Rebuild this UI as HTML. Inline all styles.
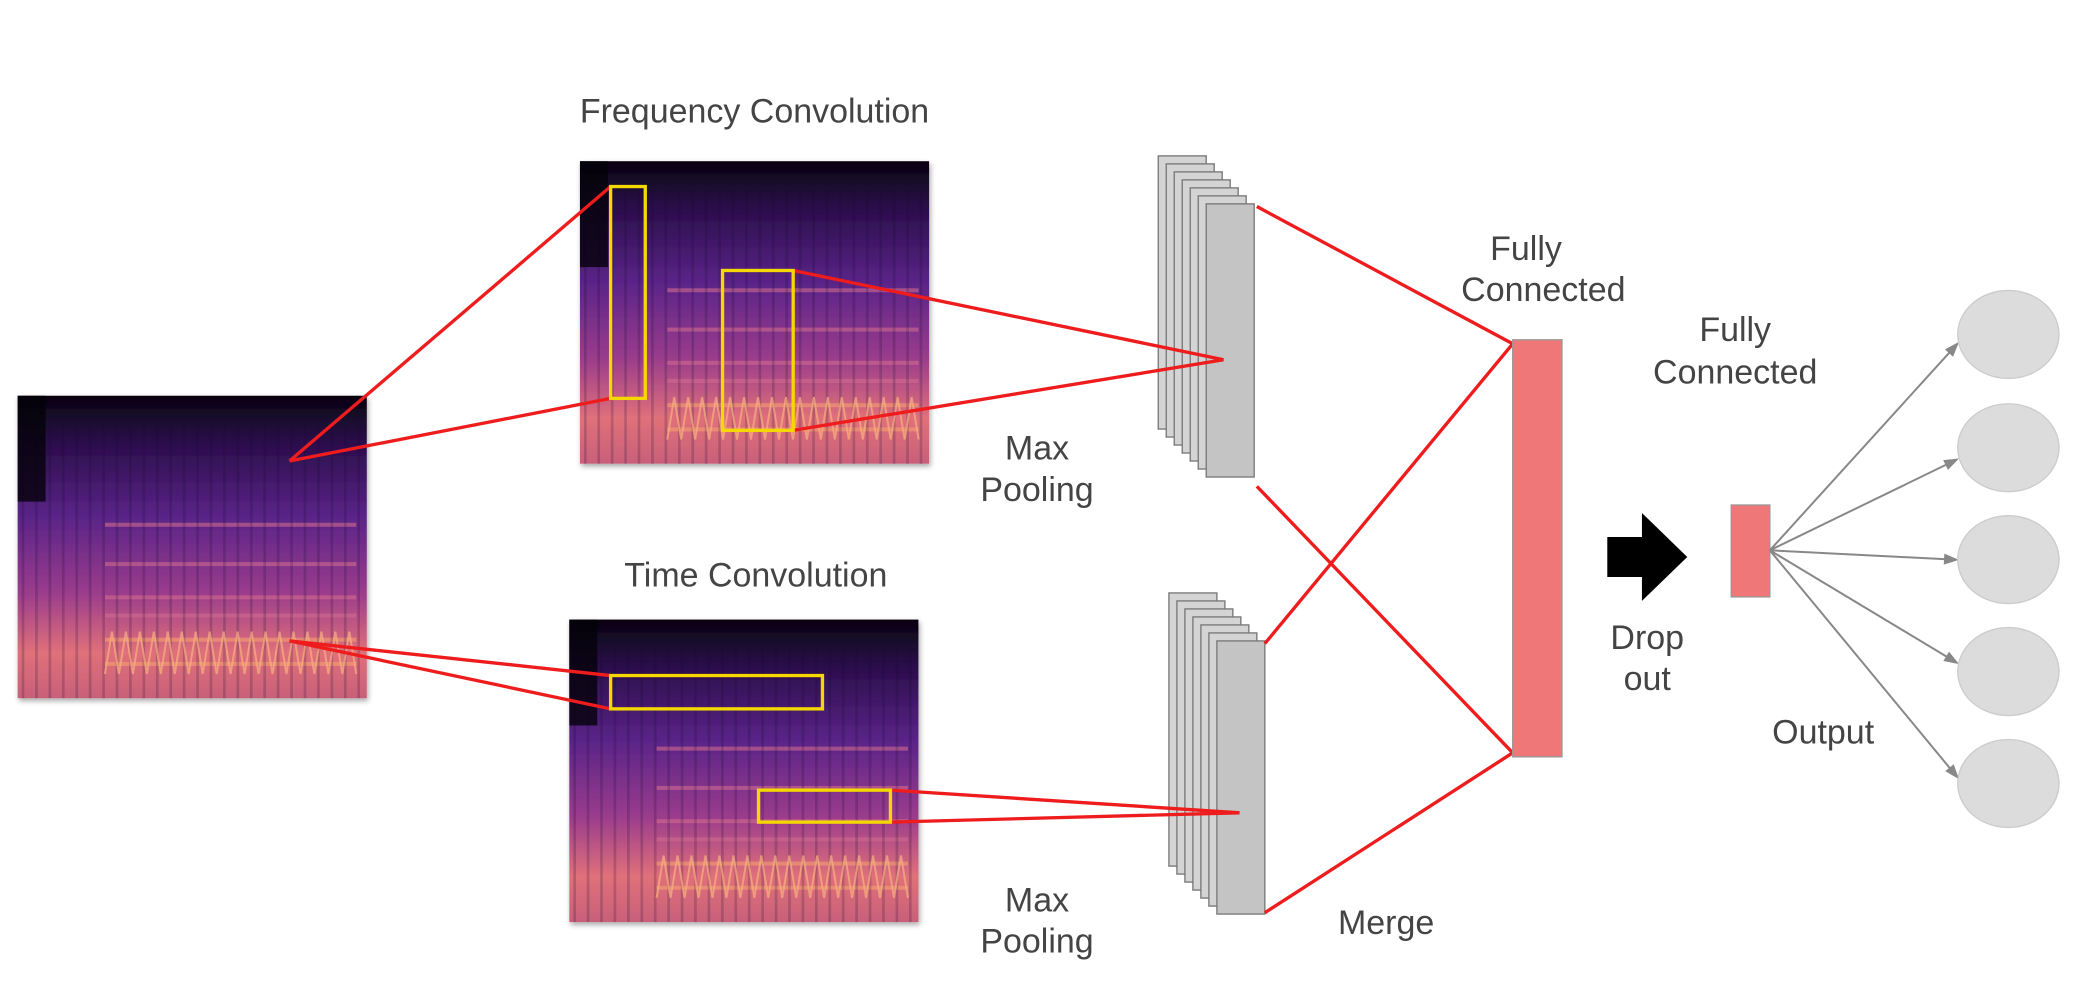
<!DOCTYPE html>
<html><head><meta charset="utf-8"><style>
html,body{margin:0;padding:0;background:#fff}
svg{display:block}
text{font-family:"Liberation Sans",sans-serif;fill:#444;font-size:25.5px;text-anchor:middle}
</style></head><body>
<svg id="s" width="2090" height="1006" viewBox="0 0 1568 755" xmlns="http://www.w3.org/2000/svg">
<defs>
<linearGradient id="spec" x1="0" y1="0" x2="0" y2="1">
<stop offset="0" stop-color="#08040f"/>
<stop offset="0.15" stop-color="#2a0d4a"/>
<stop offset="0.4" stop-color="#5a2488"/>
<stop offset="0.65" stop-color="#9a3c8c"/>
<stop offset="0.85" stop-color="#e0707a"/>
<stop offset="1" stop-color="#c8607a"/>
</linearGradient>
<filter id="sh"><feDropShadow dx="1" dy="2" stdDeviation="2" flood-opacity="0.35"/></filter>
</defs>
<g id="specs"></g>
<g id="lines" stroke="#ee1c1c" stroke-width="2.5" fill="none">
<line x1="217" y1="346" x2="458" y2="140"/>
<line x1="217" y1="346" x2="458" y2="299"/>
<line x1="217" y1="481" x2="458" y2="507"/>
<line x1="217" y1="481" x2="458" y2="532"/>
</g>
<g id="stacks"></g>
<g stroke="#ee1c1c" stroke-width="2.5" fill="none">
<line x1="595" y1="203" x2="918" y2="270"/>
<line x1="595" y1="323" x2="918" y2="270"/>
<line x1="668" y1="593" x2="930" y2="610"/>
<line x1="668" y1="617" x2="930" y2="610"/>
</g>
<g id="yellow" stroke="#f5d800" stroke-width="2.5" fill="none">
<rect x="458" y="140" width="26" height="159"/>
<rect x="542" y="203" width="53" height="120"/>
<rect x="458" y="507" width="159" height="25"/>
<rect x="569" y="593" width="99" height="24"/>
</g>
<g stroke="#ee1c1c" stroke-width="2.5">
<line x1="943" y1="155" x2="1135" y2="258"/>
<line x1="943" y1="365" x2="1135" y2="565"/>
<line x1="949" y1="483" x2="1135" y2="258"/>
<line x1="949" y1="685" x2="1135" y2="565"/>
</g>
<rect x="1135" y="255" width="37" height="313" fill="#f07777" stroke="#999" stroke-width="1"/>
<path d="M1206 403 H1232 V385 L1266 418 L1232 451 V433 H1206 Z" fill="#000"/>
<rect x="1299" y="379" width="29" height="69" fill="#f07777" stroke="#999" stroke-width="1"/>
<g id="outs"></g>
<text x="566" y="92">Frequency Convolution</text>
<text x="567" y="440">Time Convolution</text>
<text x="778" y="345">Max</text>
<text x="778" y="376">Pooling</text>
<text x="778" y="684">Max</text>
<text x="778" y="715">Pooling</text>
<text x="1145" y="195">Fully</text>
<text x="1158" y="226">Connected</text>
<text x="1302" y="256">Fully</text>
<text x="1302" y="288">Connected</text>
<text x="1040" y="701">Merge</text>
<text x="1236" y="487">Drop</text>
<text x="1236" y="518">out</text>
<text x="1368" y="558">Output</text>
</svg>
<script>
const NS="http://www.w3.org/2000/svg";
function el(p,t,a){const e=document.createElementNS(NS,t);for(const k in a)e.setAttribute(k,a[k]);p.appendChild(e);return e;}
const specs=document.getElementById('specs');
function spec(x,y,w,h,name){
  const g=el(specs,'g',{});
  
  
  el(g,'rect',{x:x,y:y,width:w,height:h,fill:'url(#spec)',filter:'url(#sh)'});
  const bands=[0.42,0.55,0.66,0.72,0.8,0.88];
  bands.forEach((b,i)=>el(g,'rect',{x:x+w*0.25,y:y+h*b,width:w*0.72,height:3,fill:i>3?'#f5a070':'#d06a90',opacity:0.6}));
  for(let i=0;i<26;i++){el(g,'rect',{x:x+w*(i/26)+3,y:y+h*0.1,width:2,height:h*0.9,fill:'#1a0830',opacity:0.2});}
  let d='M'+(x+w*0.25)+' '+(y+h*0.92);
  for(let i=0;i<18;i++){const xx=x+w*0.25+i*w*0.04;d+=' L'+(xx+w*0.02)+' '+(y+h*0.78)+' L'+(xx+w*0.04)+' '+(y+h*0.92);}
  el(g,'path',{d:d,stroke:'#f8b080',fill:'none','stroke-width':1.5,opacity:0.7});
  el(g,'rect',{x:x,y:y,width:w*0.08,height:h*0.35,fill:'#05020a',opacity:0.8});
}
spec(13,297,262,227,'input-spectrogram');
spec(435,121,262,227,'frequency-conv-spectrogram');
spec(427,465,262,227,'time-conv-spectrogram');
const stacks=document.getElementById('stacks');
function stack(fx,fy,w,h,name){
  const g=el(stacks,'g',{});
  
  
  for(let i=6;i>=0;i--){el(g,'rect',{x:fx-i*6,y:fy-i*6,width:w,height:h,fill:i==0?'#c4c4c4':'#d4d4d4',stroke:'#777','stroke-width':1});}
}
stack(905,153,36,205,'max-pooling-stack-top');
stack(913,481,36,205,'max-pooling-stack-bottom');
const outs=document.getElementById('outs');
const outY=[251,336,420,504,588];
outY.forEach((cy,i)=>{
  const ln=el(outs,'line',{x1:1328,y1:413,x2:1466,y2:cy+(cy<413?10:cy>420?-8:0),stroke:'#888','stroke-width':1.5});
  
  
  const ang=Math.atan2(ln.getAttribute('y2')-413,1466-1328);
  const tx=1470,ty=+ln.getAttribute('y2')+Math.tan(ang)*4;
  const p=el(outs,'path',{d:`M${tx} ${ty} L${tx-12*Math.cos(ang-0.35)} ${ty-12*Math.sin(ang-0.35)} L${tx-12*Math.cos(ang+0.35)} ${ty-12*Math.sin(ang+0.35)} Z`,fill:'#888'});
  
  
  const c=el(outs,'ellipse',{cx:1507,cy:cy,rx:38,ry:33,fill:'#dcdcdc',stroke:'#ccc'});
  
  
});
</script>
</body></html>
